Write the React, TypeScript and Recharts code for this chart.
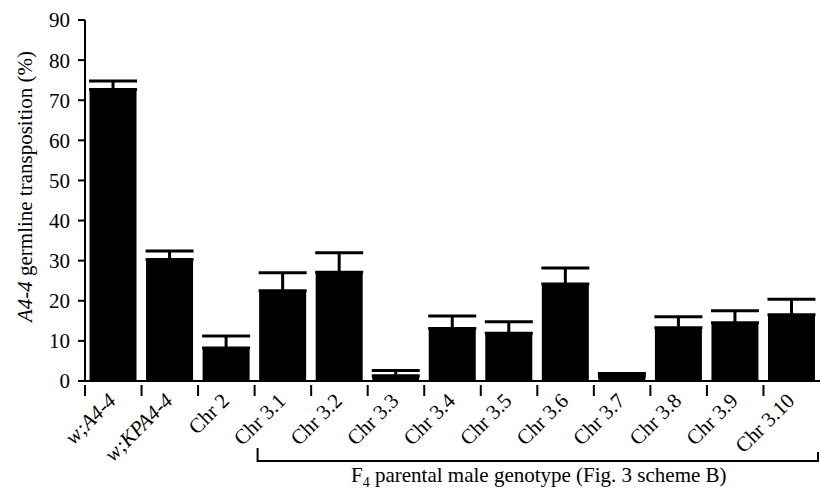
import { Bar, BarChart, ErrorBar, Label, XAxis, YAxis } from "recharts";

const categories = [
  "w;A4-4",
  "w;KPA4-4",
  "Chr 2",
  "Chr 3.1",
  "Chr 3.2",
  "Chr 3.3",
  "Chr 3.4",
  "Chr 3.5",
  "Chr 3.6",
  "Chr 3.7",
  "Chr 3.8",
  "Chr 3.9",
  "Chr 3.10",
];
const italicCategories = ["w;A4-4", "w;KPA4-4"];
const transposition = [72.7, 30.3, 8.2, 22.5, 27.1, 1.3, 13.1, 11.9, 24.2, 1.2, 13.3, 14.5, 16.5];
const upperError = [2.1, 2.1, 3.0, 4.5, 4.9, 1.3, 3.1, 2.9, 4.0, 0.7, 2.7, 3.0, 3.9];
const yTicks = [0, 10, 20, 30, 40, 50, 60, 70, 80, 90];
const bracketFromIndex = 3;

const data = categories.map((name, i) => ({
  name,
  value: transposition[i],
  err: [0, upperError[i]],
}));

const W = 820;
const H = 494;
const AXIS_W = 85;
const XAXIS_H = 113;
const FONT = "'Liberation Serif', 'Times New Roman', serif";
const FS = 21;
const band = (W - AXIS_W) / categories.length;

/** category label rotated 45°, plus the little tick at the left band edge */
function CategoryTick(props: any) {
  const { x, y, payload } = props;
  const italic = italicCategories.includes(payload.value);
  const edge = x - band / 2;
  return (
    <g>
      <line x1={edge} y1={y - 4} x2={edge} y2={y + 7} stroke="#000" strokeWidth={2} />
      <text
        transform={`translate(${x + 4},${y + 13}) rotate(-45)`}
        textAnchor="end"
        fontFamily={FONT}
        fontSize={FS}
        fontStyle={italic ? "italic" : "normal"}
        fill="#000"
      >
        {payload.value}
      </text>
    </g>
  );
}

function BracketTitle(props: any) {
  const { x, y, width } = props.viewBox;
  const left = x + bracketFromIndex * band + 3;
  const right = x + width - 2;
  const ly = y + 80;
  return (
    <g>
      <path
        d={`M${left},${ly - 13} L${left},${ly} L${right},${ly} L${right},${ly - 9}`}
        fill="none"
        stroke="#000"
        strokeWidth={2}
      />
      <text x={(left + right) / 2 + 1} y={ly + 21} textAnchor="middle" fontFamily={FONT} fontSize={FS} fill="#000">
        F<tspan fontSize={14} dy={5}>4</tspan>
        <tspan dy={-5}> parental male genotype (Fig. 3 scheme B)</tspan>
      </text>
    </g>
  );
}

function YTitle(props: any) {
  const { y, height } = props.viewBox;
  const cy = y + height / 2 - 14;
  return (
    <text
      transform={`translate(32,${cy}) rotate(-90)`}
      textAnchor="middle"
      fontFamily={FONT}
      fontSize={FS}
      fill="#000"
    >
      <tspan fontStyle="italic">A4-4</tspan> germline transposition (%)
    </text>
  );
}

export default function App() {
  return (
    <div style={{ position: "absolute", left: 0, top: 0, width: W, height: H, background: "#fff" }}>
      <BarChart
        width={W}
        height={H}
        data={data}
        margin={{ top: 20, right: 0, left: 0, bottom: 0 }}
        barCategoryGap="8%"
      >
        <XAxis
          dataKey="name"
          height={XAXIS_H}
          interval={0}
          tickLine={false}
          axisLine={{ stroke: "#000", strokeWidth: 2 }}
          tick={<CategoryTick />}
        >
          <Label content={<BracketTitle />} />
        </XAxis>
        <YAxis
          width={AXIS_W}
          domain={[0, 90]}
          ticks={yTicks}
          interval={0}
          tickSize={7}
          tickMargin={8}
          axisLine={{ stroke: "#000", strokeWidth: 2 }}
          tickLine={{ stroke: "#000", strokeWidth: 2 }}
          tick={{ fill: "#000", fontSize: FS, fontFamily: FONT }}
        >
          <Label content={<YTitle />} />
        </YAxis>
        <Bar dataKey="value" fill="#000" isAnimationActive={false}>
          <ErrorBar dataKey="err" direction="y" width={24} stroke="#000" strokeWidth={3} />
        </Bar>
      </BarChart>
    </div>
  );
}
